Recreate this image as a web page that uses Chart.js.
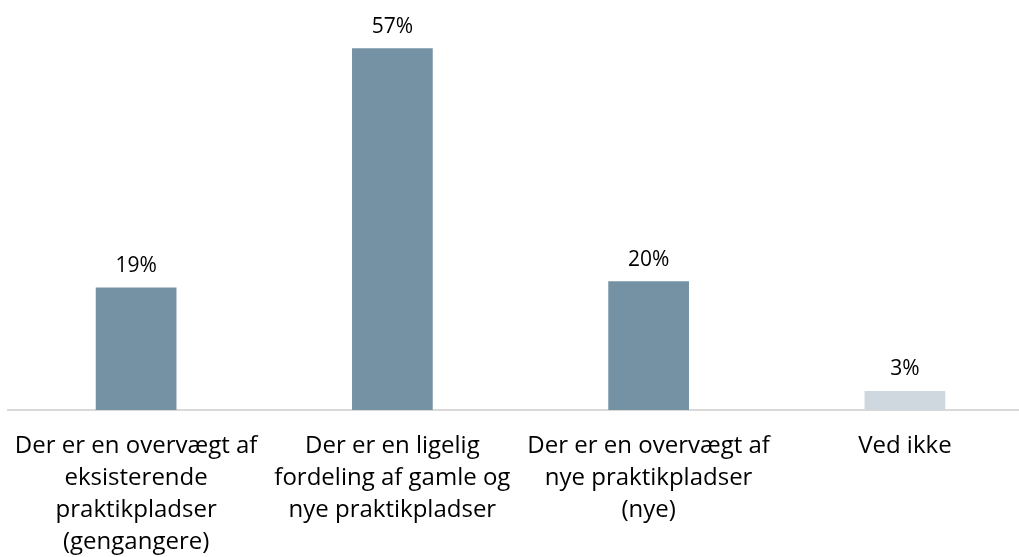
<!DOCTYPE html>
<html>
<head>
<meta charset="utf-8">
<script src="https://cdn.jsdelivr.net/npm/chart.js@4/dist/chart.umd.min.js"></script>
<style>
  html, body { margin: 0; padding: 0; background: #fff; overflow: hidden; }
  #wrap { width: 1034px; height: 557px; }
</style>
</head>
<body>
<div id="wrap"><canvas id="c"></canvas></div>
<script>
// categories (multi-line, as in the reference)
var categories = [
  ['Der er en overvægt af', 'eksisterende', 'praktikpladser', '(gengangere)'],
  ['Der er en ligelig', 'fordeling af gamle og', 'nye praktikpladser'],
  ['Der er en overvægt af', 'nye praktikpladser', '(nye)'],
  ['Ved ikke']
];
var shares = [19.3, 57, 20.3, 3];
var barColors = ['#7592A4', '#7592A4', '#7592A4', '#D0D8DF'];

var FONT = "'Open Sans', sans-serif";

// value labels above each bar
var valueLabels = {
  id: 'valueLabels',
  afterDatasetsDraw(chart) {
    var ctx = chart.ctx;
    var meta = chart.getDatasetMeta(0);
    ctx.save();
    ctx.font = '21px ' + FONT;
    ctx.fillStyle = '#000';
    ctx.textAlign = 'center';
    ctx.textBaseline = 'bottom';
    meta.data.forEach(function (bar, i) {
      ctx.fillText(Math.round(shares[i]) + '%', bar.x, bar.y - 11);
    });
    ctx.restore();
  }
};

new Chart(document.getElementById('c'), {
  type: 'bar',
  data: {
    labels: categories,
    datasets: [{
      data: shares,
      backgroundColor: barColors,
      categoryPercentage: 1,
      barPercentage: 0.315
    }]
  },
  options: {
    responsive: true,
    maintainAspectRatio: false,
    animation: false,
    layout: { padding: { left: 8, right: 1, top: 0, bottom: 0 } },
    plugins: { legend: { display: false }, tooltip: { enabled: false } },
    scales: {
      y: { display: false, min: 0, max: 64.6 },
      x: {
        grid: { display: false },
        border: { display: true, color: '#D9D9D9', width: 2 },
        ticks: {
          color: '#000',
          font: { family: FONT, size: 24, lineHeight: '32px' },
          padding: 12,
          maxRotation: 0,
          autoSkip: false
        },
        afterFit(scale) { scale.height = 147; }
      }
    }
  },
  plugins: [valueLabels]
});
</script>
</body>
</html>
